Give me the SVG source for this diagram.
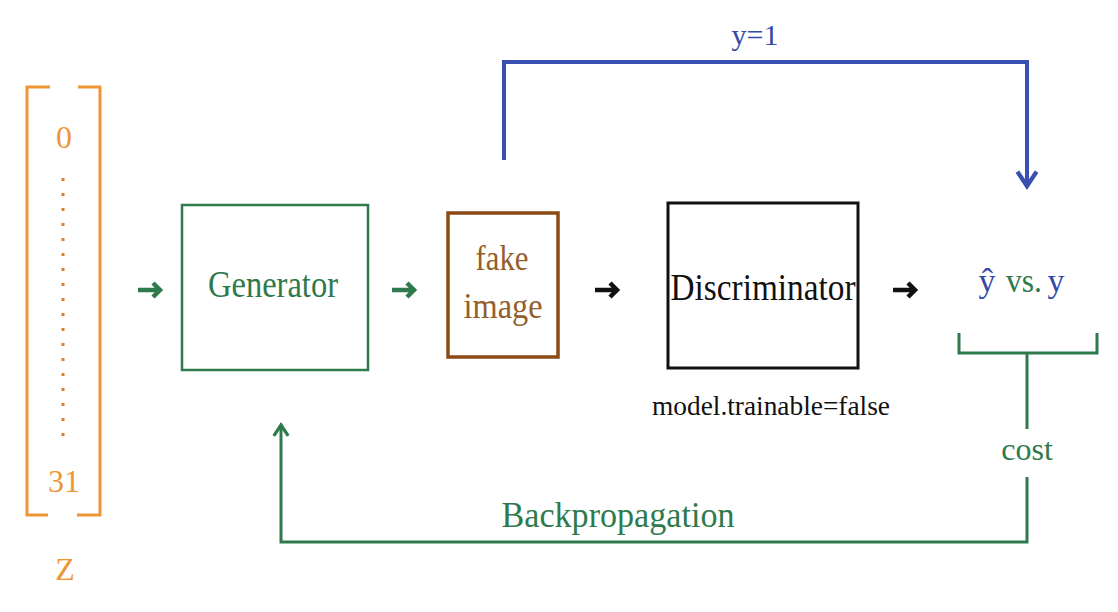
<svg xmlns="http://www.w3.org/2000/svg" width="1118" height="612" viewBox="0 0 1118 612" font-family="'Liberation Serif', 'Times New Roman', 'DejaVu Serif', serif">
<style>
text{font-family:"Liberation Serif","Times New Roman","DejaVu Serif",serif;text-anchor:middle}
.g{fill:#2e7a4c}.b{fill:#3448a8}.o{fill:#ef9634}.k{fill:#111}.br{fill:#93602c}
.gl{stroke:#2e7a4c;fill:none}
.bl{stroke:#3a50b0;stroke-width:4;fill:none}
.ol{stroke:#ef9634;stroke-width:3;fill:none}
.sa{fill:none;stroke-width:4.5;stroke-linejoin:miter}
</style>
<defs>
<marker id="hb" viewBox="0 0 10 10" refX="8" refY="5" markerWidth="6" markerHeight="6" markerUnits="strokeWidth" orient="auto"><path d="M2,1 L8,5 L2,9" fill="none" stroke="#3a50b0" stroke-width="1.8"/></marker>
<marker id="hgb" viewBox="0 0 10 10" refX="8" refY="5" markerWidth="6" markerHeight="6" markerUnits="strokeWidth" orient="auto"><path d="M2,1 L8,5 L2,9" fill="none" stroke="#2e7a4c" stroke-width="1.8"/></marker>
</defs>
<rect width="1118" height="612" fill="#fff"/>
<g id="z">
<path class="ol" d="M50,87 H27 V515 H48 M78,87 H100 V515 H77"/>
<text class="o" x="64" y="148" font-size="32">0</text>
<line x1="63" y1="178" x2="63" y2="436" stroke="#d9822b" stroke-width="3" stroke-dasharray="3 12"/>
<text class="o" x="64" y="492" font-size="32">31</text>
<text class="o" x="65" y="580" font-size="32">Z</text>
</g>
<g id="generator">
<rect x="182" y="205" width="186" height="165" fill="none" stroke="#2e7a4c" stroke-width="2.5"/>
<text class="g" x="273" y="297" font-size="37" textLength="130" lengthAdjust="spacingAndGlyphs">Generator</text>
</g>
<g id="fake-image">
<rect x="448" y="213" width="110" height="144" fill="none" stroke="#8b4a14" stroke-width="3.5"/>
<text class="br" x="502" y="270" font-size="35" textLength="53" lengthAdjust="spacingAndGlyphs">fake</text>
<text class="br" x="503" y="318" font-size="35" textLength="79" lengthAdjust="spacingAndGlyphs">image</text>
</g>
<g id="discriminator">
<rect x="668" y="203" width="190" height="165" fill="none" stroke="#111" stroke-width="3"/>
<text class="k" x="763" y="300" font-size="37" textLength="185" lengthAdjust="spacingAndGlyphs">Discriminator</text>
<text class="k" x="771" y="415" font-size="28" textLength="238" lengthAdjust="spacingAndGlyphs">model.trainable=false</text>
</g>
<g id="output">
<text class="b" x="987" y="292" font-size="34">ŷ</text>
<text class="g" x="1024" y="292" font-size="34" textLength="36" lengthAdjust="spacingAndGlyphs">vs.</text>
<text class="b" x="1056" y="292" font-size="34">y</text>
<text class="g" x="1027" y="460" font-size="32">cost</text>
</g>
<g id="connectors">
<path class="sa" stroke="#2e7a4c" d="M138,290 H159 M153,283 L160,290 L153,297"/>
<path class="sa" stroke="#2e7a4c" d="M392,290 H413 M407,283 L414,290 L407,297"/>
<path class="sa" stroke="#111" d="M595,290 H616 M610,283 L617,290 L610,297"/>
<path class="sa" stroke="#111" d="M893,290 H914 M908,283 L915,290 L908,297"/>
<path class="bl" d="M504,160 V62 H1027 V186" marker-end="url(#hb)"/>
<path class="gl" style="stroke-width:3" d="M959,333 V353 H1097 V333 M1027,353 V429"/>
<path class="gl" style="stroke-width:3" d="M1027,477 V542 H281 V425" marker-end="url(#hgb)"/>
<text class="b" x="755" y="45" font-size="30">y=1</text>
<text class="g" x="618" y="527" font-size="36" textLength="233" lengthAdjust="spacingAndGlyphs">Backpropagation</text>
</g>
</svg>
